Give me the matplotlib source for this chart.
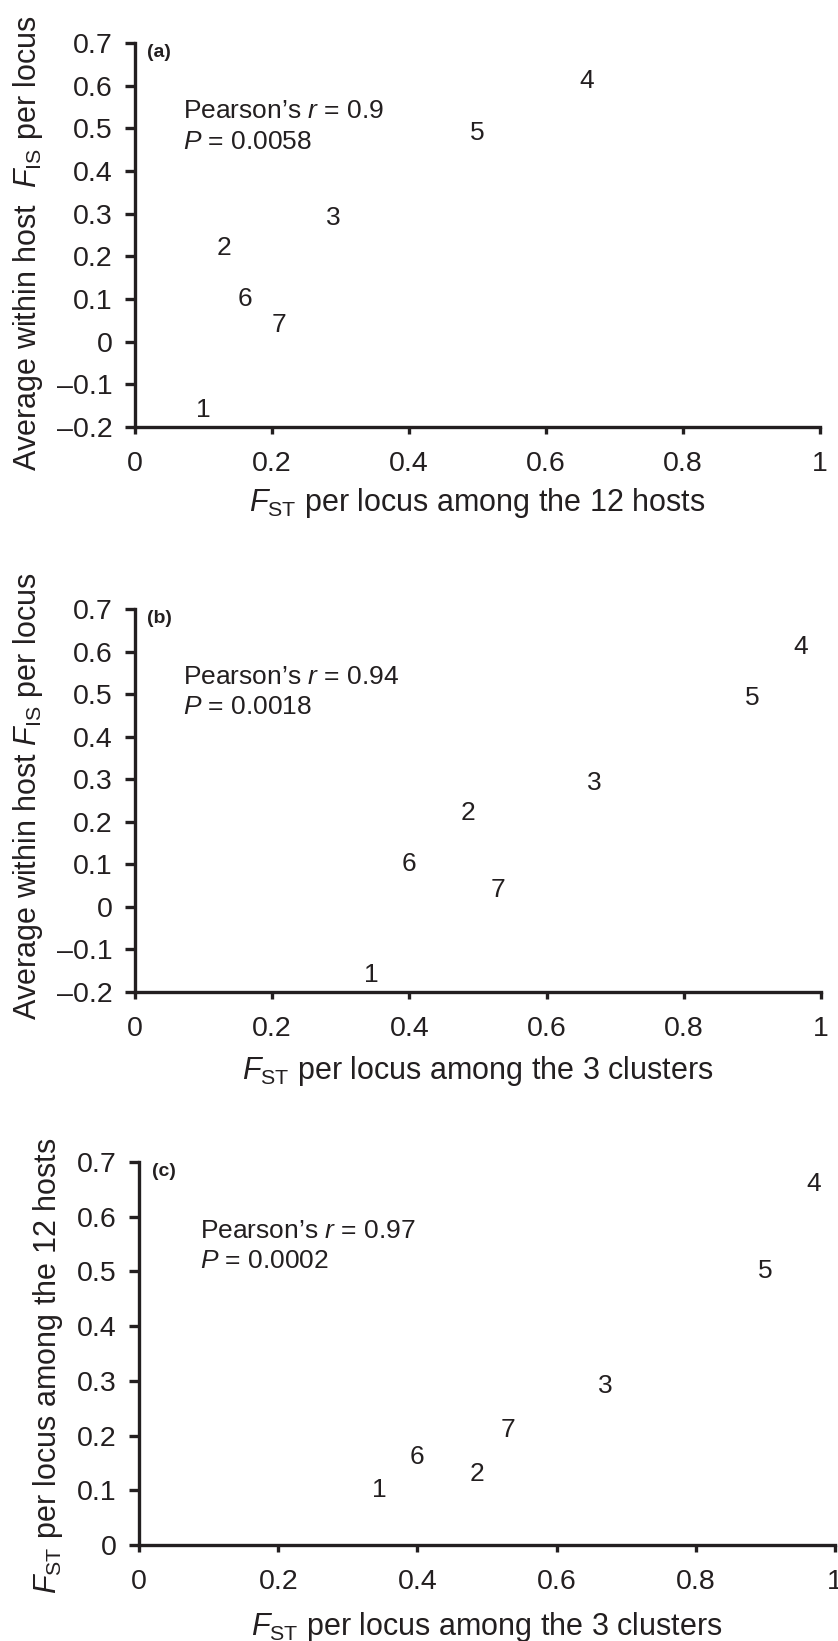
import matplotlib
matplotlib.use("Agg")
import matplotlib.pyplot as plt

# locus ids and per-locus values
loci = ["1", "2", "3", "4", "5", "6", "7"]
fst_12hosts = [0.10, 0.13, 0.29, 0.66, 0.50, 0.16, 0.21]
fst_3clusters = [0.345, 0.485, 0.67, 0.97, 0.90, 0.40, 0.53]
fis_within = [-0.16, 0.22, 0.29, 0.61, 0.49, 0.10, 0.04]

x_ticks = [0, 0.2, 0.4, 0.6, 0.8, 1]
x_ticklabels = ["0", "0.2", "0.4", "0.6", "0.8", "1"]
fis_ticks = [-0.2, -0.1, 0, 0.1, 0.2, 0.3, 0.4, 0.5, 0.6, 0.7]
fis_ticklabels = ["\u20130.2", "\u20130.1", "0", "0.1", "0.2", "0.3", "0.4", "0.5", "0.6", "0.7"]
fst_ticks = [0, 0.1, 0.2, 0.3, 0.4, 0.5, 0.6, 0.7]
fst_ticklabels = ["0", "0.1", "0.2", "0.3", "0.4", "0.5", "0.6", "0.7"]

stats = [("0.9", "0.0058"), ("0.94", "0.0018"), ("0.97", "0.0002")]

plt.rcParams["font.family"] = ["Liberation Sans", "DejaVu Sans"]
plt.rcParams["mathtext.fontset"] = "custom"
plt.rcParams["mathtext.rm"] = "Liberation Sans"
plt.rcParams["mathtext.it"] = "Liberation Sans:italic"
plt.rcParams["mathtext.bf"] = "Liberation Sans:bold"

ink = "#231f20"

fig = plt.figure(figsize=(8.38, 16.41), dpi=100)

ax_a = fig.add_axes([0.161, 0.7398, 0.8175, 0.234])
ax_b = fig.add_axes([0.161, 0.3955, 0.8186, 0.2334])
ax_c = fig.add_axes([0.1659, 0.0585, 0.8305, 0.2334])

panels = [
    (ax_a, fst_12hosts, fis_within, "(a)",
     r"$F_{\mathrm{ST}}$ per locus among the 12 hosts",
     r"Average within host  $F_{\mathrm{IS}}$ per locus",
     fis_ticks, fis_ticklabels, (-0.2, 0.7), 0.479, 7),
    (ax_b, fst_3clusters, fis_within, "(b)",
     r"$F_{\mathrm{ST}}$ per locus among the 3 clusters",
     r"Average within host $F_{\mathrm{IS}}$ per locus",
     fis_ticks, fis_ticklabels, (-0.2, 0.7), 0.512, 9),
    (ax_c, fst_3clusters, fst_12hosts, "(c)",
     r"$F_{\mathrm{ST}}$ per locus among the 3 clusters",
     r"$F_{\mathrm{ST}}$ per locus among the 12 hosts",
     fst_ticks, fst_ticklabels, (0, 0.7), 0.467, 11),
]

for i, (ax, xs, ys, tag, xlab, ylab, yt, ytl, ylim, ylab_y, xpad) in enumerate(panels):
    for name, xv, yv in zip(loci, xs, ys):
        ax.text(xv, yv, name, ha="center", va="center", fontsize=19, color=ink)
    ax.set_xlim(0, 1)
    ax.set_ylim(*ylim)
    ax.set_xticks(x_ticks)
    ax.set_xticklabels(x_ticklabels)
    ax.set_yticks(yt)
    ax.set_yticklabels(ytl)
    for s in ["top", "right"]:
        ax.spines[s].set_visible(False)
    for s in ["left", "bottom"]:
        ax.spines[s].set_linewidth(2.4)
        ax.spines[s].set_color(ink)
    ax.tick_params(axis="both", direction="out", width=2.4,
                   color=ink, labelsize=20.5, labelcolor=ink)
    ax.tick_params(axis="y", length=7, pad=9)
    ax.tick_params(axis="x", length=5, pad=12)
    ax.set_xlabel(xlab, fontsize=22, color=ink, labelpad=xpad)
    ax.set_ylabel(ylab, fontsize=22, color=ink, labelpad=9, y=ylab_y)

    ax.text(0.018, 0.975, tag, transform=ax.transAxes, fontsize=14,
            fontweight="bold", ha="left", va="center", color=ink)
    r_val, p_val = stats[i]
    tx = 0.07 if i < 2 else 0.088
    ty1 = [0.823, 0.822, 0.82][i]
    ty2 = [0.741, 0.743, 0.742][i]
    ax.text(tx, ty1, "Pearson\u2019s $r$ = " + r_val, transform=ax.transAxes,
            fontsize=19, ha="left", va="center", color=ink)
    ax.text(tx, ty2, "$P$ = " + p_val, transform=ax.transAxes,
            fontsize=19, ha="left", va="center", color=ink)

plt.savefig("out.png", dpi=100)
